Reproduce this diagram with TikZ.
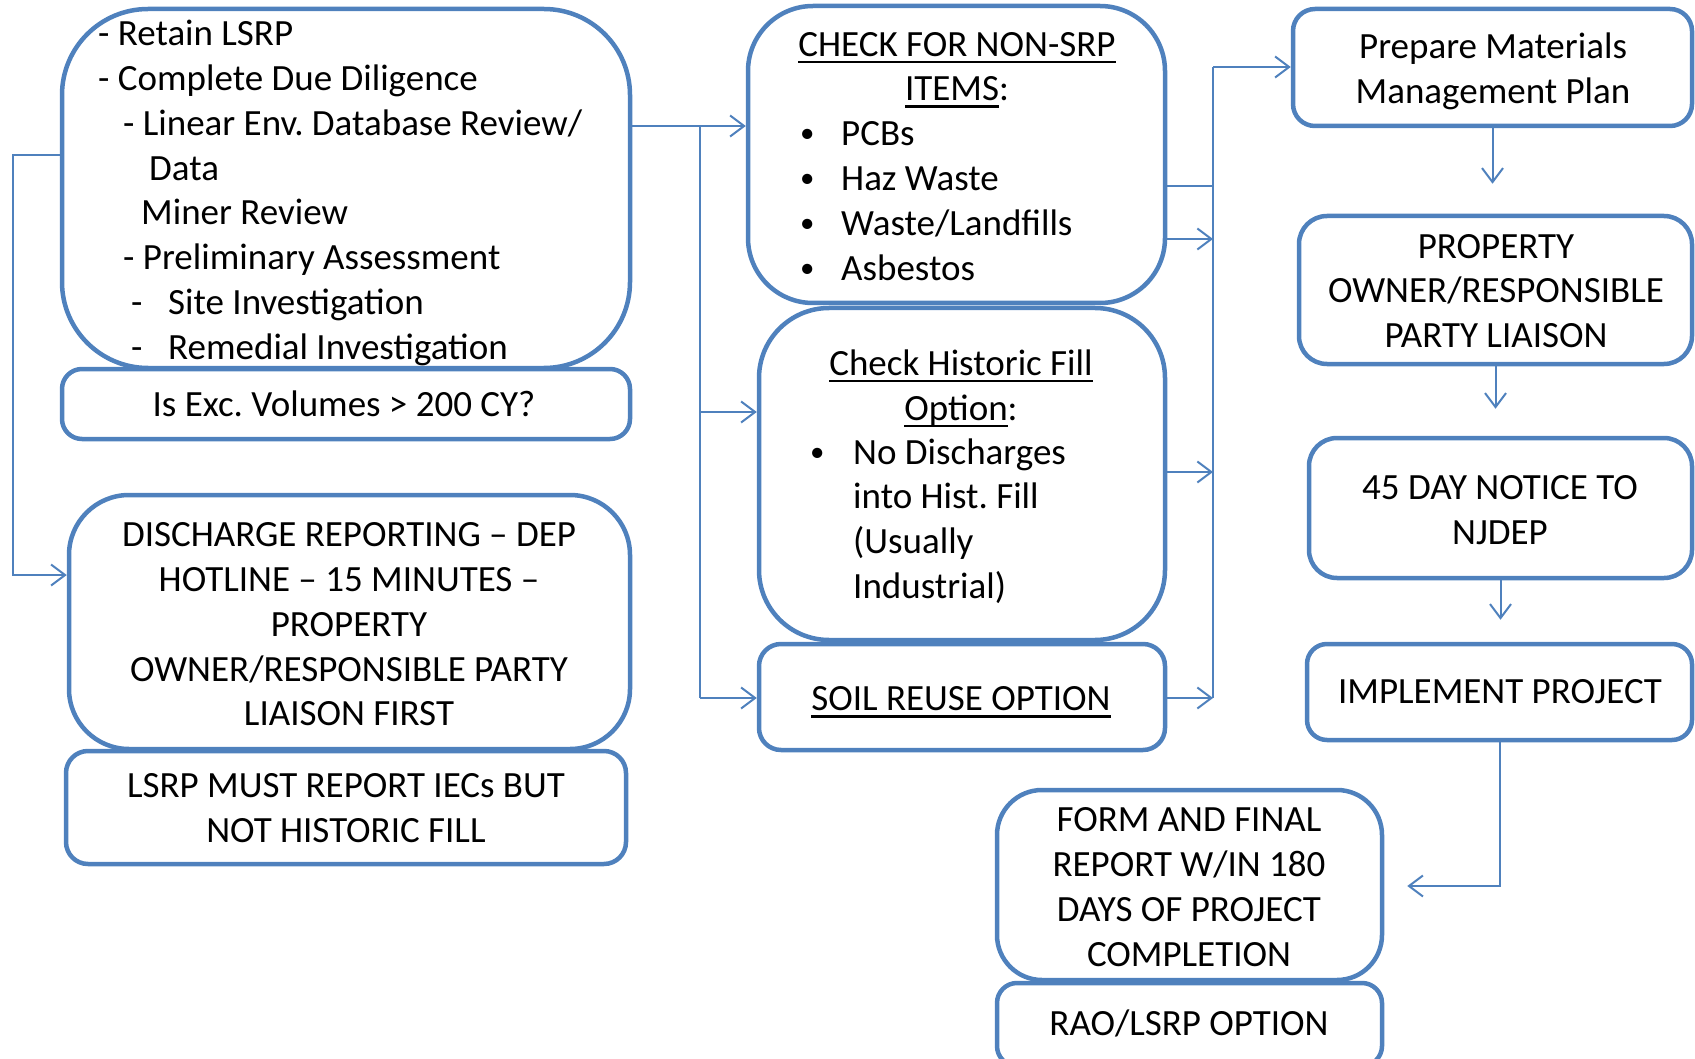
\documentclass[tikz,border=0pt]{standalone}
\usepackage{fontspec}
\setmainfont{Carlito}
\usetikzlibrary{arrows.meta}
\definecolor{bx}{HTML}{4F81BD}
\frenchspacing
\newcommand\ulx[1]{\leavevmode\setbox0=\hbox{#1}\rlap{\rule[-7pt]{\wd0}{2.6pt}}\box0}
\newcommand\bul[1]{\makebox[#1][l]{\hspace*{-9pt}\raisebox{3pt}{\scalebox{0.78}{•}}}}
\tikzset{
  box/.style={draw=bx, line width=4.5pt, rounded corners=#1, inner sep=0pt, fill=none},
  txt/.style={inner sep=0pt, font=\fontsize{37pt}{44.8pt}\selectfont, text=black},
  con/.style={draw=bx, line width=2pt},
  arr/.style={con, -{Straight Barb[length=14pt,width=21pt,line width=2pt]}},
}
\begin{document}
\begin{tikzpicture}[x=1pt,y=-1pt]
\useasboundingbox (0,0) rectangle (1695,1059);
% boxes
\node[box=86, minimum width=568, minimum height=359] (A)  at (346,188.5) {};
\node[box=20, minimum width=568, minimum height=70]  (A2) at (346,404) {};
\node[box=60, minimum width=561, minimum height=254] (B)  at (349.5,622) {};
\node[box=22, minimum width=560, minimum height=113] (B2) at (346,807.5) {};
\node[box=65, minimum width=417, minimum height=297] (C)  at (956.5,154.5) {};
\node[box=70, minimum width=406, minimum height=332] (D)  at (962,474) {};
\node[box=22, minimum width=406, minimum height=106] (D2) at (962,697) {};
\node[box=22, minimum width=399, minimum height=117] (E)  at (1492.5,67.5) {};
\node[box=28, minimum width=393, minimum height=148] (F)  at (1495.5,290) {};
\node[box=28, minimum width=383, minimum height=140] (G)  at (1500.5,508) {};
\node[box=20, minimum width=385, minimum height=96]  (H)  at (1499.5,692) {};
\node[box=45, minimum width=385, minimum height=190] (I)  at (1189.5,885) {};
\node[box=20, minimum width=385, minimum height=83]  (I2) at (1189.5,1024.5) {};
% texts
\node[txt, align=left, anchor=west] (tA) at (98,193) {%
- Retain LSRP\\
- Complete Due Diligence\\
\hspace*{25pt}- Linear Env. Database Review/\\
\hspace*{51pt}Data\\
\hspace*{43pt}Miner Review\\
\hspace*{25pt}- Preliminary Assessment\\
\hspace*{33pt}\makebox[37pt][l]{-}Site Investigation\\
\hspace*{33pt}\makebox[37pt][l]{-}Remedial Investigation};
\node[txt] (tA2) at (344,404) {Is Exc. Volumes > 200 CY?};
\node[txt, align=center] (tB) at (349,624.5) {DISCHARGE REPORTING – DEP\\HOTLINE – 15 MINUTES –\\PROPERTY\\OWNER/RESPONSIBLE PARTY\\LIAISON FIRST};
\node[txt, align=center] (tB2) at (346,808) {LSRP MUST REPORT IECs BUT\\NOT HISTORIC FILL};
\node[txt, align=center] (tC1) at (957,70) {\ulx{CHECK FOR NON-SRP}\\\ulx{ITEMS}:};
\node[txt, align=left, anchor=west] (tC2) at (809,201) {%
\bul{32pt}PCBs\\
\bul{32pt}Haz Waste\\
\bul{32pt}Waste/Landfills\\
\bul{32pt}Asbestos};
\node[txt, align=center] (tD1) at (961,388.5) {\ulx{Check Historic Fill}\\\ulx{Option}:};
\node[txt, align=left, anchor=west] (tD2) at (819,521) {%
\bul{34pt}No Discharges\\
\hspace*{34pt}into Hist. Fill\\
\hspace*{34pt}(Usually\\
\hspace*{34pt}Industrial)};
\node[txt] (tD3) at (961,702) {\ulx{SOIL REUSE OPTION}};
\node[txt, align=center] (tE) at (1493,71.5) {Prepare Materials\\Management Plan};
\node[txt, align=center] (tF) at (1496,291) {PROPERTY\\OWNER/RESPONSIBLE\\PARTY LIAISON};
\node[txt, align=center] (tG) at (1500,510) {45 DAY NOTICE TO\\NJDEP};
\node[txt] (tH) at (1500,692) {IMPLEMENT PROJECT};
\node[txt, align=center] (tI) at (1189,887) {FORM AND FINAL\\REPORT W/IN 180\\DAYS OF PROJECT\\COMPLETION};
\node[txt] (tI2) at (1189,1023) {RAO/LSRP OPTION};
% connector coordinates
\coordinate (j1) at (700,126);
\coordinate (j2) at (700,412);
\coordinate (j3) at (700,698);
\coordinate (l1) at (13,155);
\coordinate (l2) at (13,575);
\coordinate (r0) at (1213,67);
\coordinate (r1) at (1213,186);
\coordinate (r2) at (1213,239);
\coordinate (r3) at (1213,472);
\coordinate (r4) at (1213,698);
\coordinate (h1) at (1499.5,886);
% left group
\draw[arr] (A.east |- j1) -- (C.west |- j1);
\draw[con] (j1) -- (j3);
\draw[arr] (j2) -- (D.west |- j2);
\draw[arr] (j3) -- (D2.west |- j3);
\draw[arr] (A.west |- l1) -- (l1) -- (l2) -- (B.west |- l2);
% right bus
\draw[con] (C.east |- r1) -- (r1);
\draw[con] (r4) -- (r0);
\draw[arr] (r0) -- (E.west |- r0);
\draw[arr] (C.east |- r2) -- (r2);
\draw[arr] (D.east |- r3) -- (r3);
\draw[arr] (D2.east |- r4) -- (r4);
% right column
\draw[arr, shorten >=30pt] (E.south) -- (E.south |- F.north);
\draw[arr, shorten >=27pt] (F.south) -- (F.south |- G.north);
\draw[arr, shorten >=22pt] (G.south) -- (G.south |- H.north);
\draw[arr, shorten >=23pt] (H.south) -- (h1) -- (I.east |- h1);
\end{tikzpicture}
\end{document}
